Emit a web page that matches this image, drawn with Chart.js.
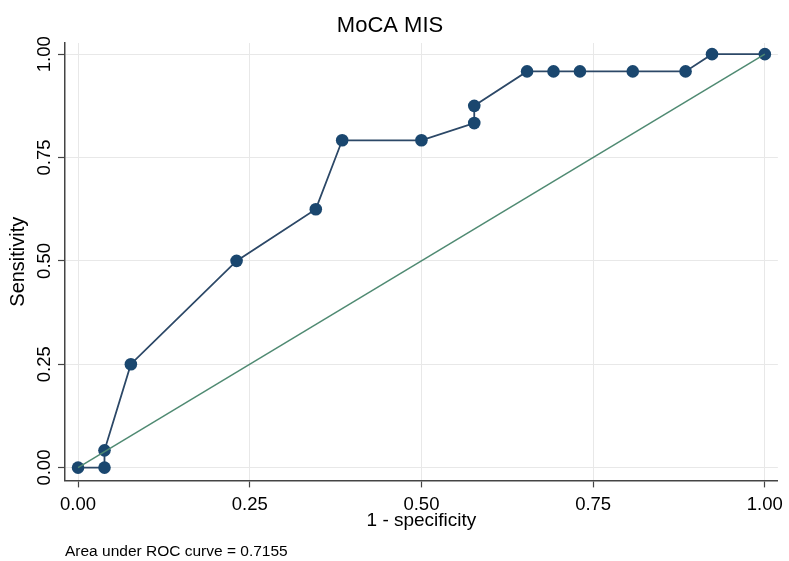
<!DOCTYPE html>
<html>
<head>
<meta charset="utf-8">
<script src="https://cdn.jsdelivr.net/npm/chart.js@4"></script>
<style>
  html, body { margin: 0; padding: 0; background: #ffffff; }
  canvas { display: block; }
</style>
</head>
<body>
<canvas id="c" width="789" height="561"></canvas>
<script>
// ---- data ----
const fpr = [0, 0.0385, 0.0385, 0.0769, 0.2308, 0.3462, 0.3846, 0.5, 0.5769, 0.5769, 0.6538, 0.6923, 0.7308, 0.8077, 0.8846, 0.9231, 1];
const tpr = [0, 0, 0.0417, 0.25, 0.5, 0.625, 0.7917, 0.7917, 0.8333, 0.875, 0.9583, 0.9583, 0.9583, 0.9583, 0.9583, 1, 1];
const refX = [0, 1];
const refY = [0, 1];
const xTicks = [0, 0.25, 0.5, 0.75, 1];
const yTicks = [0, 0.25, 0.5, 0.75, 1];
const tickLabels = ['0.00', '0.25', '0.50', '0.75', '1.00'];
const titleText = 'MoCA MIS';
const xTitle = '1 - specificity';
const yTitle = 'Sensitivity';
const noteText = 'Area under ROC curve = 0.7155';

const FONT = "'Liberation Sans', Arial, Helvetica, sans-serif";
const rocPts = fpr.map((x, i) => ({ x: x, y: tpr[i] }));
const refPts = refX.map((x, i) => ({ x: x, y: refY[i] }));
const fmt = (v) => { const i = xTicks.indexOf(v); return i >= 0 ? tickLabels[i] : ''; };

new Chart(document.getElementById('c'), {
  type: 'scatter',
  data: {
    datasets: [
      {
        label: 'ROC',
        data: rocPts,
        showLine: true,
        borderColor: '#2c4867',
        borderWidth: 1.8,
        pointRadius: 6.3,
        pointBackgroundColor: '#1a476f',
        pointBorderColor: '#1a476f',
        pointBorderWidth: 0,
        order: 1
      },
      {
        label: 'Reference',
        data: refPts,
        showLine: true,
        borderColor: '#4f8a72',
        borderWidth: 1.5,
        pointRadius: 0,
        order: 0
      }
    ]
  },
  options: {
    responsive: false,
    animation: false,
    devicePixelRatio: 1,
    layout: { padding: { left: 0, right: 9, top: 0, bottom: 0 } },
    plugins: {
      legend: { display: false },
      tooltip: { enabled: false },
      title: {
        display: true,
        text: titleText,
        color: '#000000',
        font: { family: FONT, size: 22, weight: 'normal' },
        padding: { top: 13, bottom: 3.6 }
      },
      subtitle: {
        display: true,
        text: noteText,
        position: 'bottom',
        align: 'start',
        fullSize: false,
        color: '#000000',
        font: { family: FONT, size: 15.5, weight: 'normal' },
        padding: { top: 11, bottom: 0 }
      }
    },
    scales: {
      x: {
        type: 'linear',
        min: -0.019,
        max: 1.019,
        afterBuildTicks: (s) => { s.ticks = xTicks.map(v => ({ value: v })); },
        afterFit: (s) => { s.height = 51; },
        ticks: {
          callback: (v) => fmt(v),
          color: '#000000',
          font: { family: FONT, size: 18.5 },
          padding: 6,
          maxRotation: 0,
          autoSkip: false
        },
        grid: {
          color: '#e8e8e8',
          lineWidth: 1,
          drawTicks: true,
          tickLength: 7,
          tickColor: '#444444',
          tickWidth: 1.2
        },
        border: { display: true, color: '#444444', width: 1.5 },
        title: {
          display: true,
          text: xTitle,
          color: '#000000',
          font: { family: FONT, size: 19 },
          padding: { top: 0, bottom: -1 }
        }
      },
      y: {
        type: 'linear',
        min: -0.031,
        max: 1.027,
        afterBuildTicks: (s) => { s.ticks = yTicks.map(v => ({ value: v })); },
        afterFit: (s) => { s.width = 65; },
        ticks: {
          callback: (v) => fmt(v),
          color: '#000000',
          font: { family: FONT, size: 18.5 },
          minRotation: 90,
          maxRotation: 90,
          crossAlign: 'center',
          padding: -5,
          autoSkip: false
        },
        grid: {
          color: '#e8e8e8',
          lineWidth: 1,
          drawTicks: true,
          tickLength: 7,
          tickColor: '#444444',
          tickWidth: 1.2
        },
        border: { display: true, color: '#444444', width: 1.5 },
        title: {
          display: true,
          text: yTitle,
          color: '#000000',
          font: { family: FONT, size: 20 },
          padding: { top: 6, bottom: 0 }
        }
      }
    }
  }
});
</script>
</body>
</html>
